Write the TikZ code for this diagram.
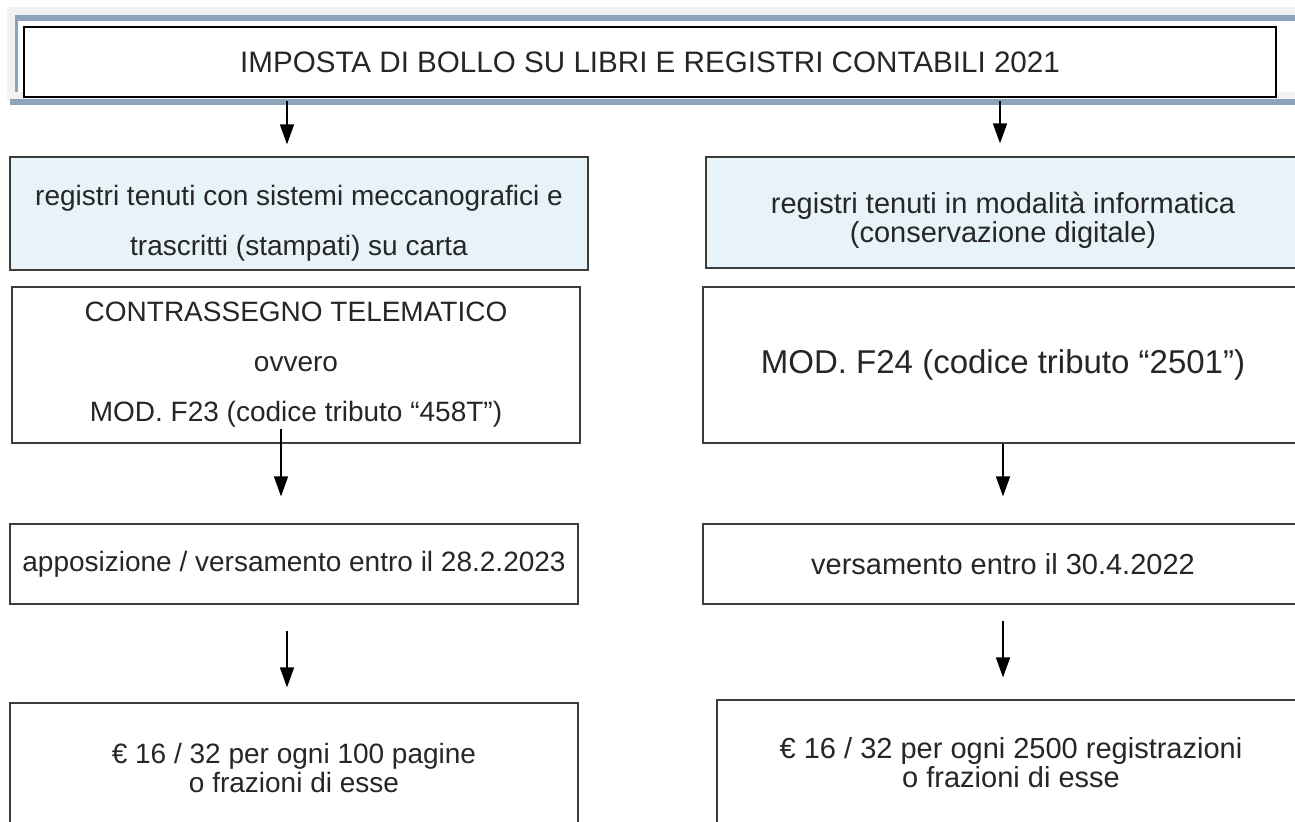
\documentclass[tikz,border=0pt]{standalone}
\usepackage{fontspec}
\setmainfont{Liberation Sans}
\usepackage{xcolor}
\usetikzlibrary{arrows.meta,calc,positioning}
\definecolor{bandgray}{HTML}{F2F2F2}
\definecolor{bandblue}{HTML}{8CA3BA}
\definecolor{boxblue}{HTML}{E7F3F8}
\definecolor{boxline}{HTML}{3C3C3C}

\begin{document}
\begin{tikzpicture}[
	x=0.5pt, y=-0.5pt,
	every node/.style={shape=rectangle, draw=boxline, line width=0.6pt,
	align=center, inner sep=0pt, text=black!85,
	font=\fontsize{14}{13}\selectfont},
	rightcol/.style={font=\fontsize{14.5}{14.5}\selectfont},
	bluebox/.style={fill=boxblue},
	widelines/.style={font=\fontsize{14}{25}\selectfont},
	titlebox/.style={draw=black, line width=1pt, fill=white,
	font=\fontsize{14.8}{15}\selectfont},
	flow/.style={-{Triangle[length=10pt,width=7pt]}, line width=0.8pt, black}
]
\useasboundingbox[fill=white] (0,0) rectangle (1295,821);
% frame behind the title
\fill[bandgray] (7,7) rectangle (1295,100);
\fill[white] (18,21) rectangle (1295,92);
\draw[bandblue, line width=2.8pt] (15,18) -- (1295,18);
\draw[bandblue, line width=1.6pt] (16.5,18) -- (16.5,92);
\draw[bandblue, line width=2.8pt] (10,102) -- (1295,102);

\node[titlebox, minimum width=626pt, minimum height=35pt] (title) at (650,62)
	{IMPOSTA DI BOLLO SU LIBRI E REGISTRI CONTABILI 2021};

% left column
\node[bluebox, widelines, minimum width=289pt, minimum height=56.5pt] (blueL) at (299,213.5)
	{\rule{0pt}{20pt}registri tenuti con sistemi meccanografici e\\trascritti (stampati) su carta};
\node[widelines, minimum width=284pt, minimum height=78pt] (boxL2) at (296,365)
	{CONTRASSEGNO TELEMATICO\\ovvero\\MOD. F23 (codice tributo “458T”)};
\node[minimum width=284pt, minimum height=40pt] (boxL3) at (294,564)
	{apposizione / versamento entro il 28.2.2023};
\node[minimum width=284pt, minimum height=65pt] (boxL4) at (294,768)
	{€ 16 / 32 per ogni 100 pagine\\o frazioni di esse};

% right column
\node[bluebox, rightcol, minimum width=297pt, minimum height=55.5pt] (blueR) at (1003,212.5)
	{\rule{0pt}{18pt}registri tenuti in modalità informatica\\(conservazione digitale)};
\node[minimum width=300pt, minimum height=78pt, font=\fontsize{16.5}{17}\selectfont] (boxR2) at (1003,365)
	{MOD. F24 (codice tributo “2501”)};
\node[rightcol, minimum width=300pt, minimum height=40pt] (boxR3) at (1003,564)
	{versamento entro il 30.4.2022};
\node[rightcol, font=\fontsize{14.5}{13}\selectfont, minimum width=294pt, minimum height=63pt] (boxR4) at (1011,763)
	{€ 16 / 32 per ogni 2500 registrazioni\\o frazioni di esse};

% arrows
\draw[flow] ([xshift=-6pt,yshift=-1.5pt]blueL.north |- title.south) -- ([xshift=-6pt,yshift=6pt]blueL.north);
\draw[flow] ([xshift=-1.5pt,yshift=-1.5pt]blueR.north |- title.south) -- ([xshift=-1.5pt,yshift=6.5pt]blueR.north);
\draw[flow] ([xshift=-7.5pt,yshift=7.5pt]boxL2.south) -- ([xshift=-7.5pt,yshift=13.5pt]boxL2.south |- boxL3.north);
\draw[flow] (boxR2.south) -- ([yshift=13.5pt]boxR3.north);
\draw[flow] ([xshift=-3.5pt,yshift=-13pt]boxL3.south) -- ([xshift=-3.5pt,yshift=7.5pt]boxL3.south |- boxL4.north);
\draw[flow] ([yshift=-8pt]boxR3.south) -- ([yshift=11pt]boxR3.south |- boxR4.north);
\end{tikzpicture}
\end{document}
